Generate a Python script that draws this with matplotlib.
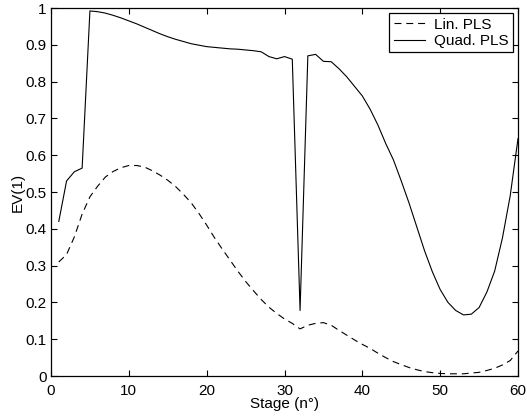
import matplotlib
matplotlib.use("Agg")
import matplotlib.pyplot as plt
import numpy as np

stages = list(range(1, 61))

lin_pls = [0.310, 0.330, 0.378, 0.440, 0.487, 0.516, 0.541, 0.556, 0.566, 0.572,
           0.572, 0.568, 0.558, 0.546, 0.532, 0.515, 0.494, 0.471, 0.442, 0.410,
           0.376, 0.345, 0.315, 0.285, 0.257, 0.232, 0.208, 0.187, 0.170, 0.155,
           0.143, 0.128, 0.138, 0.143, 0.145, 0.138, 0.124, 0.111, 0.098, 0.086,
           0.075, 0.062, 0.050, 0.039, 0.031, 0.023, 0.017, 0.012, 0.009, 0.007,
           0.006, 0.006, 0.006, 0.008, 0.010, 0.015, 0.021, 0.030, 0.042, 0.068]

quad_pls = [0.420, 0.530, 0.555, 0.565, 0.992, 0.990, 0.986, 0.980, 0.973, 0.965,
            0.957, 0.948, 0.939, 0.930, 0.922, 0.915, 0.909, 0.903, 0.899, 0.895,
            0.893, 0.891, 0.889, 0.888, 0.886, 0.884, 0.881, 0.868, 0.862, 0.868,
            0.861, 0.178, 0.870, 0.874, 0.855, 0.854, 0.835, 0.813, 0.787, 0.761,
            0.725, 0.682, 0.632, 0.587, 0.530, 0.470, 0.405, 0.340, 0.283, 0.235,
            0.200, 0.178, 0.166, 0.168, 0.186, 0.228, 0.285, 0.375, 0.490, 0.645]

x_ticks = [0, 10, 20, 30, 40, 50, 60]
y_ticks = [0, 0.1, 0.2, 0.3, 0.4, 0.5, 0.6, 0.7, 0.8, 0.9, 1]
y_tick_labels = ["0", "0.1", "0.2", "0.3", "0.4", "0.5", "0.6", "0.7", "0.8", "0.9", "1"]

plt.rcParams['font.family'] = ['Liberation Sans', 'DejaVu Sans']
plt.rcParams['lines.scale_dashes'] = False

W, H = 527, 416
fig = plt.figure(figsize=(W / 100, H / 100), dpi=100)
ax = fig.add_axes([51 / W, (H - 376) / H, (518 - 51) / W, (376 - 8) / H])

ax.plot(stages, lin_pls, color='black', lw=0.8, dashes=(5, 3.5), label='Lin. PLS')
ax.plot(stages, quad_pls, color='black', lw=0.8, label='Quad. PLS')

ax.set_xlim(0, 60)
ax.set_ylim(0, 1)
ax.set_xticks(x_ticks)
ax.set_xticklabels([str(t) for t in x_ticks])
ax.set_yticks(y_ticks)
ax.set_yticklabels(y_tick_labels)
ax.tick_params(direction='in', length=4, width=0.8, top=True, right=True,
               labelsize=11, colors='black')
ax.tick_params(axis='x', pad=5.5)
ax.tick_params(axis='y', pad=3)
for s in ax.spines.values():
    s.set_linewidth(0.9)

ax.set_xlabel('Stage (n°)', fontsize=11, labelpad=-0.5)
ax.set_ylabel('EV(1)', fontsize=11, labelpad=0.5)

leg = ax.legend(loc='upper right', bbox_to_anchor=((513 - 51) / 467, (376 - 13) / 368),
                borderaxespad=0, fancybox=False, framealpha=1, edgecolor='black',
                fontsize=11, handlelength=2.0, handletextpad=0.6, borderpad=0.3,
                labelspacing=0.15)
leg.get_frame().set_linewidth(0.9)

fig.savefig('out.png', dpi=100)
